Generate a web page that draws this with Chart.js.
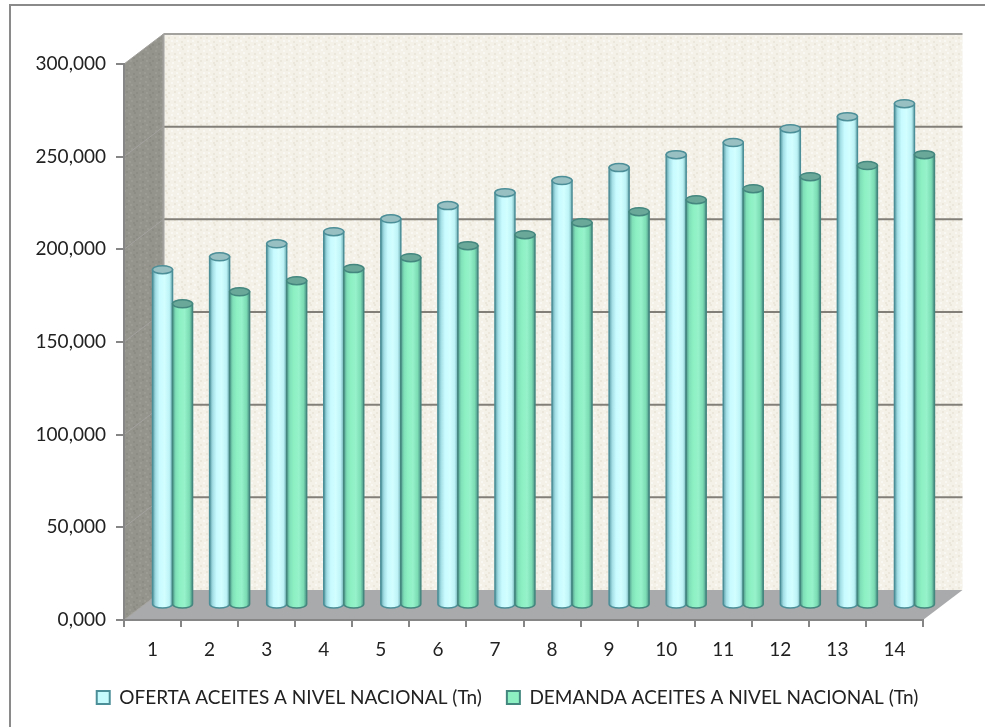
<!DOCTYPE html>
<html>
<head>
<meta charset="utf-8">
<title>Aceites</title>
<script src="https://cdn.jsdelivr.net/npm/chart.js@4"></script>
<style>
    html, body { margin: 0; padding: 0; background: #fff; }
    #grafica { display: block; }
</style>
</head>
<body>
<canvas id="grafica" width="985" height="727"></canvas>
<script>
var periodos = ['1', '2', '3', '4', '5', '6', '7', '8', '9', '10', '11', '12', '13', '14']
var oferta = [180900, 187900, 194900, 201400, 208400, 215500, 222500, 229000, 236000, 243000, 249500, 257000, 263500, 270500]
var demanda = [162500, 169000, 175000, 181500, 187400, 193900, 199800, 206300, 212200, 218700, 224600, 231100, 237100, 243000]
var etiquetas_y = ['0,000', '50,000', '100,000', '150,000', '200,000', '250,000', '300,000']
var nombre_oferta = 'OFERTA ACEITES A NIVEL NACIONAL (Tn)'
var nombre_demanda = 'DEMANDA ACEITES A NIVEL NACIONAL (Tn)'

// profundidad de la caja 3D
var fondo_x = 39.5, fondo_y = -30
var medio_x = 20, medio_y = -15

var colores = [
    { paradas: ['#5b9da5', '#a4dfe6', '#c8fbff', '#d2feff', '#bdf3f6', '#6eadb3'], linea: '#4d8f98', tapa: '#98bfc2', muestra: '#c6fbfd' },
    { paradas: ['#4f9a8c', '#7fe0b8', '#8cf0c3', '#96f2ca', '#7cdcb4', '#4a9486'], linea: '#44877f', tapa: '#6aa899', muestra: '#8cf0c2' }
]

// textura punteada de las paredes
function crear_textura(base, punto, claro) {
    var c = document.createElement('canvas')
    c.width = 16; c.height = 16
    var g = c.getContext('2d')
    g.fillStyle = base
    g.fillRect(0, 0, 16, 16)
    var puntos = [[1, 1], [6, 0], [11, 2], [14, 5], [3, 4], [8, 5], [0, 8], [5, 9], [11, 8], [14, 11], [2, 12], [8, 12], [12, 14], [5, 14]]
    puntos.forEach(function (p, i) {
        g.fillStyle = i % 2 == 0 ? claro : punto
        g.fillRect(p[0], p[1], 2, 2)
    })
    return g.createPattern(c, 'repeat')
}

function poligono(ctx, puntos) {
    ctx.beginPath()
    puntos.forEach(function (p, i) {
        if (i == 0) ctx.moveTo(p[0], p[1]); else ctx.lineTo(p[0], p[1])
    })
    ctx.closePath()
}

var caja3d = {
    id: 'caja3d',
    // la leyenda va centrada en todo el ancho, no solo sobre el area de ejes
    afterLayout: function (chart) {
        chart.legend.left += 46
        chart.legend.right += 46
    },
    beforeDraw: function (chart) {
        var ctx = chart.ctx, a = chart.chartArea, y = chart.scales.y
        ctx.save()
        ctx.fillStyle = '#fff'
        ctx.fillRect(0, 0, chart.width, chart.height)

        // marco: solo arriba y a la izquierda
        ctx.strokeStyle = '#8a8a8a'
        ctx.lineWidth = 2
        ctx.beginPath()
        ctx.moveTo(chart.width, 5)
        ctx.lineTo(10, 5)
        ctx.lineTo(10, chart.height)
        ctx.stroke()

        // pared del fondo
        var base = y.getPixelForValue(0), tope = y.getPixelForValue(300000)
        poligono(ctx, [[a.left + fondo_x, tope + fondo_y], [a.right + fondo_x, tope + fondo_y], [a.right + fondo_x, base + fondo_y], [a.left + fondo_x, base + fondo_y]])
        ctx.fillStyle = crear_textura('#f3f1e8', '#ebe7da', '#f9f8f3')
        ctx.fill()

        // pared lateral
        poligono(ctx, [[a.left, tope], [a.left + fondo_x, tope + fondo_y], [a.left + fondo_x, base + fondo_y], [a.left, base]])
        ctx.fillStyle = crear_textura('#94938c', '#8c8b84', '#9c9b94')
        ctx.fill()

        // piso
        poligono(ctx, [[a.left, base], [a.left + fondo_x, base + fondo_y], [a.right + fondo_x, base + fondo_y], [a.right, base]])
        ctx.fillStyle = '#a9aaac'
        ctx.fill()

        // lineas de division sobre las paredes
        y.ticks.forEach(function (t) {
            var py = y.getPixelForValue(t.value)
            if (t.value > 0) {
                ctx.strokeStyle = t.value == 300000 ? '#a3a29e' : '#827f78'
                ctx.lineWidth = 2
                ctx.beginPath()
                ctx.moveTo(a.left + fondo_x, py + fondo_y)
                ctx.lineTo(a.right + fondo_x, py + fondo_y)
                ctx.stroke()
            }
            ctx.strokeStyle = '#a3a29e'
            ctx.lineWidth = 1
            ctx.beginPath()
            ctx.moveTo(a.left, py)
            ctx.lineTo(a.left + fondo_x, py + fondo_y)
            ctx.stroke()
        })
        ctx.strokeStyle = '#a3a29e'
        ctx.lineWidth = 2
        ctx.beginPath()
        ctx.moveTo(a.left + fondo_x, tope + fondo_y)
        ctx.lineTo(a.left + fondo_x, base + fondo_y)
        ctx.stroke()
        ctx.restore()
    },
    // cilindros: se dibujan con los elementos de cada dataset, en orden
    beforeDatasetsDraw: function (chart) {
        var ctx = chart.ctx
        chart.data.datasets.forEach(function (ds, d) {
            var c = colores[d]
            chart.getDatasetMeta(d).data.forEach(function (barra) {
                dibujar_cilindro(ctx, barra.x + medio_x, barra.y + medio_y, barra.base + medio_y, barra.width, c)
            })
        })
        return false
    }
}

function dibujar_cilindro(ctx, x, arriba, abajo, ancho, c) {
    var izq = x - ancho / 2, der = x + ancho / 2, ry = 4
    var g = ctx.createLinearGradient(izq, 0, der, 0)
    var pos = [0, 0.16, 0.35, 0.6, 0.84, 1]
    c.paradas.forEach(function (color, i) { g.addColorStop(pos[i], color) })
    ctx.save()
    ctx.beginPath()
    ctx.moveTo(izq, arriba)
    ctx.lineTo(izq, abajo)
    ctx.ellipse(x, abajo, ancho / 2, ry, 0, Math.PI, 0, true)
    ctx.lineTo(der, arriba)
    ctx.closePath()
    ctx.fillStyle = g
    ctx.fill()
    ctx.strokeStyle = c.linea
    ctx.lineWidth = 1.5
    ctx.stroke()
    ctx.beginPath()
    ctx.ellipse(x, arriba, ancho / 2, ry, 0, 0, Math.PI * 2)
    ctx.fillStyle = c.tapa
    ctx.fill()
    ctx.stroke()
    ctx.restore()
}

var grafica = new Chart(document.getElementById('grafica'), {
    type: 'bar',
    data: {
        labels: periodos,
        datasets: [
            { label: nombre_oferta, data: oferta, backgroundColor: colores[0].muestra, borderColor: colores[0].linea, barThickness: 20 },
            { label: nombre_demanda, data: demanda, backgroundColor: colores[1].muestra, borderColor: colores[1].linea, barThickness: 20 }
        ]
    },
    options: {
        responsive: false,
        animation: false,
        layout: { padding: { left: 0, right: 62, top: 64, bottom: 10 } },
        plugins: {
            tooltip: { enabled: false },
            legend: {
                position: 'bottom',
                labels: {
                    font: { family: 'Lato', size: 19 },
                    color: '#222',
                    boxWidth: 13,
                    boxHeight: 13,
                    padding: 25,
                    generateLabels: function (chart) {
                        return chart.data.datasets.map(function (ds, i) {
                            return { text: ds.label, fillStyle: colores[i].muestra, strokeStyle: colores[i].linea, lineWidth: 2, datasetIndex: i, fontColor: '#222' }
                        })
                    }
                }
            }
        },
        scales: {
            x: {
                afterFit: function (s) { s.height = 43 },
                grid: { drawOnChartArea: false, color: '#868686', tickLength: 7, lineWidth: 2 },
                border: { color: '#868686', width: 2 },
                ticks: { color: '#222', font: { family: 'Lato', size: 19 }, padding: 11, maxRotation: 0 }
            },
            y: {
                min: 0, max: 300000,
                afterFit: function (s) { s.width = 124 },
                grid: { drawOnChartArea: false, color: '#868686', tickLength: 8, lineWidth: 2 },
                border: { color: '#868686', width: 2 },
                ticks: {
                    stepSize: 50000,
                    color: '#222',
                    font: { family: 'Lato', size: 19 },
                    padding: 10,
                    callback: function (v, i) { return etiquetas_y[i] }
                }
            }
        }
    },
    plugins: [caja3d]
})
</script>
</body>
</html>
